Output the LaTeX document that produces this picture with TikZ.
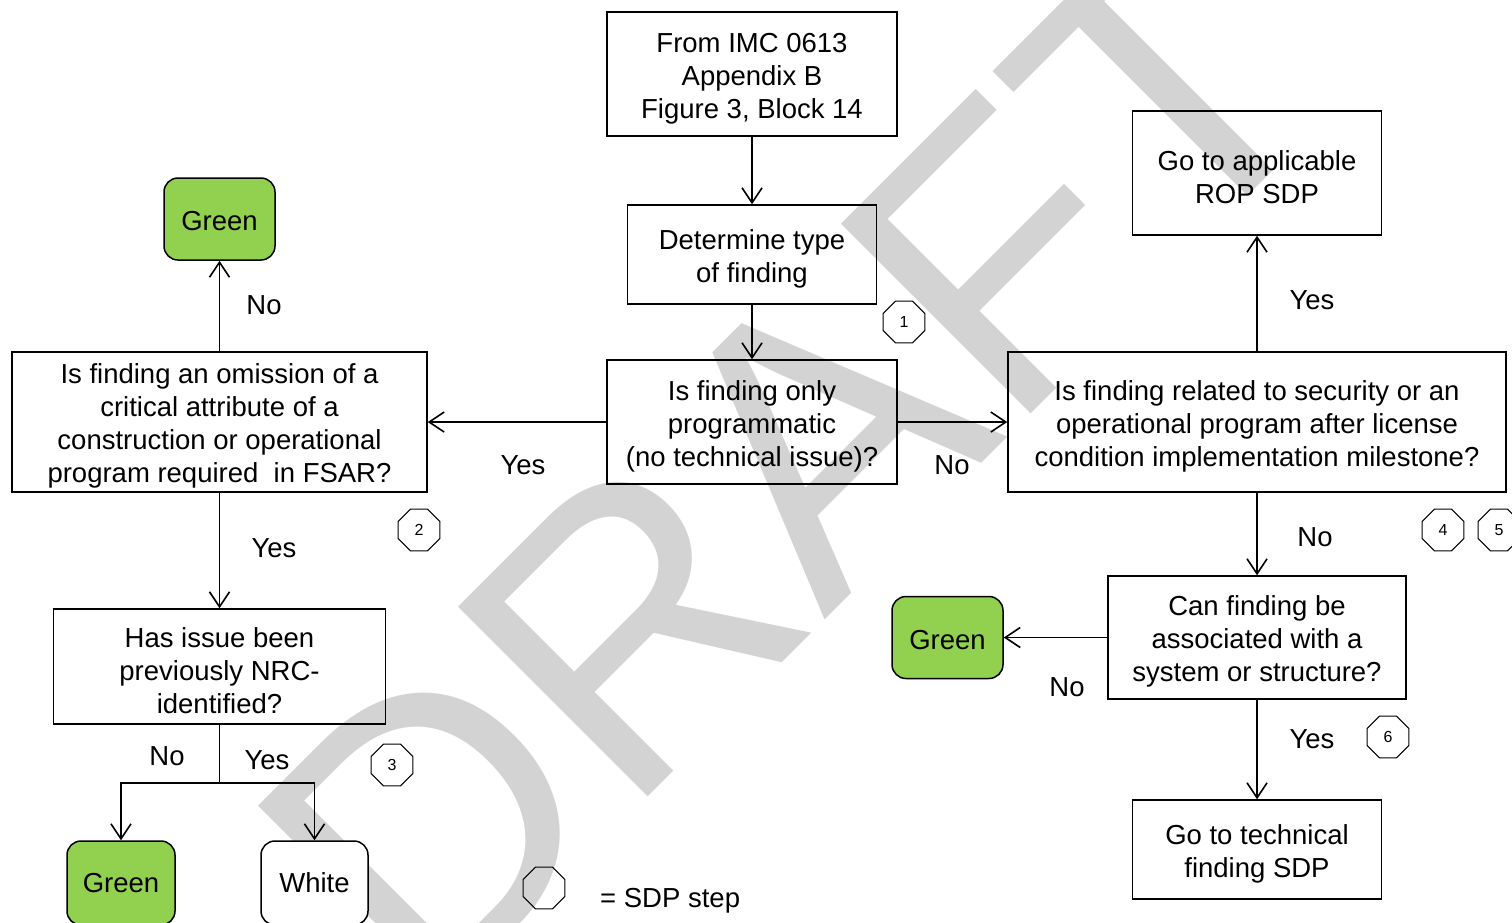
\documentclass[tikz,border=0pt]{standalone}
\usepackage{fontspec}
\setmainfont{Liberation Sans}
\usetikzlibrary{arrows.meta,shapes.geometric}
\definecolor{grn}{RGB}{146,208,80}
\definecolor{wmgray}{RGB}{211,211,211}
\newcommand{\fstrut}{\rule{0pt}{28pt}}
\newcommand{\gstrut}{\rule{0pt}{24pt}}
\begin{document}
\begin{tikzpicture}[x=1pt,y=-1pt,
  every node/.style={font=\fontsize{27.5}{33}\selectfont},
  box/.style={draw,line width=1.5pt,align=center,inner sep=0pt},
  term/.style={draw,line width=1.5pt,rounded corners=14pt,fill=grn,inner sep=0pt,minimum width=111pt,minimum height=82pt},
  oct/.style={draw,line width=1pt,regular polygon,regular polygon sides=8,minimum size=45pt,inner sep=0pt,font=\fontsize{16}{19}\selectfont},
  lbl/.style={anchor=base,inner sep=0pt},
  arr/.style={line width=1.6pt,-{Straight Barb[length=15pt,width=20pt]}},
  ln/.style={line width=1.6pt},
  wmark/.style={text=wmgray,inner sep=0pt,font=\fontsize{390}{390}\selectfont}]
\fill[white] (0,0) rectangle (1512,922);
\useasboundingbox (0,0) rectangle (1512,922);
% watermark
\node[wmark,rotate=45] (wm) at (790.6,464) {DRAFT};
% boxes
\node[box,minimum width=290pt,minimum height=124pt] (start) at (752,74) {\fstrut From IMC 0613\\Appendix B\\Figure 3, Block 14};
\node[box,minimum width=249pt,minimum height=99pt] (det) at (752,254.5) {\fstrut Determine type\\of finding};
\node[box,minimum width=290pt,minimum height=124pt] (prog) at (752,422) {\fstrut Is finding only\\programmatic\\(no technical issue)?};
\node[box,minimum width=415pt,minimum height=140pt] (omit) at (219.5,422) {\fstrut Is finding an omission of a\\critical attribute of a\\construction or operational\\program required~ in FSAR?};
\node[term] (g1) at (219.5,219) {\gstrut Green};
\node[box,minimum width=332pt,minimum height=115pt] (prev) at (219.5,666.5) {\fstrut Has issue been\\previously NRC-\\identified?};
\node[term,minimum width=108pt,minimum height=84pt] (g2) at (121,883) {Green};
\node[term,fill=white,minimum width=107pt,minimum height=84pt] (white) at (314.5,883) {White};
\node[box,minimum width=498pt,minimum height=140pt] (sec) at (1257,422) {\fstrut Is finding related to security or an\\operational program after license\\condition implementation milestone?};
\node[box,minimum width=249pt,minimum height=124pt] (rop) at (1257,173) {\fstrut Go to applicable\\ROP SDP};
\node[box,minimum width=298pt,minimum height=123pt] (sys) at (1257,637.5) {\fstrut Can finding be\\associated with a\\system or structure?};
\node[term] (g3) at (947.5,637.5) {\gstrut Green};
\node[box,minimum width=249pt,minimum height=99pt] (tech) at (1257,849.5) {\fstrut Go to technical\\finding SDP};
% connectors
\draw[arr] (start) -- (det);
\draw[arr] (det) -- (prog);
\draw[arr] (prog) -- (omit);
\draw[arr] (prog) -- (sec);
\draw[arr] (omit) -- (g1);
\draw[arr] (omit) -- (prev);
\coordinate (split) at (219.5,783);
\draw[ln] (prev.south) -- (split);
\draw[arr] (split) -| (g2.north);
\draw[arr] (split) -| (white.north);
\draw[arr] (sec) -- (rop);
\draw[arr] (sec) -- (sys);
\draw[arr] (sys) -- (g3);
\draw[arr] (sys) -- (tech);
% labels
\node[lbl] (l1) at (264,314) {No};
\node[lbl] (l2) at (523,474) {Yes};
\node[lbl] (l3) at (952,474) {No};
\node[lbl] (l4) at (1312,309) {Yes};
\node[lbl] (l5) at (1315,546) {No};
\node[lbl] (l6) at (274,557) {Yes};
\node[lbl] (l7) at (167,765) {No};
\node[lbl] (l8) at (267,769) {Yes};
\node[lbl] (l9) at (1067,696) {No};
\node[lbl] (l10) at (1312,748) {Yes};
% SDP step markers
\node[oct] (s1) at (904,322) {1};
\node[oct] (s2) at (419,530) {2};
\node[oct] (s3) at (392,765) {3};
\node[oct] (s4) at (1443,530) {4};
\node[oct] (s5) at (1499,530) {5};
\node[oct] (s6) at (1388,737) {6};
\node[oct] (leg) at (544,888) {};
\node[anchor=base west,inner sep=0pt] (legtext) at (600,907) {= SDP step};
\end{tikzpicture}
\end{document}
